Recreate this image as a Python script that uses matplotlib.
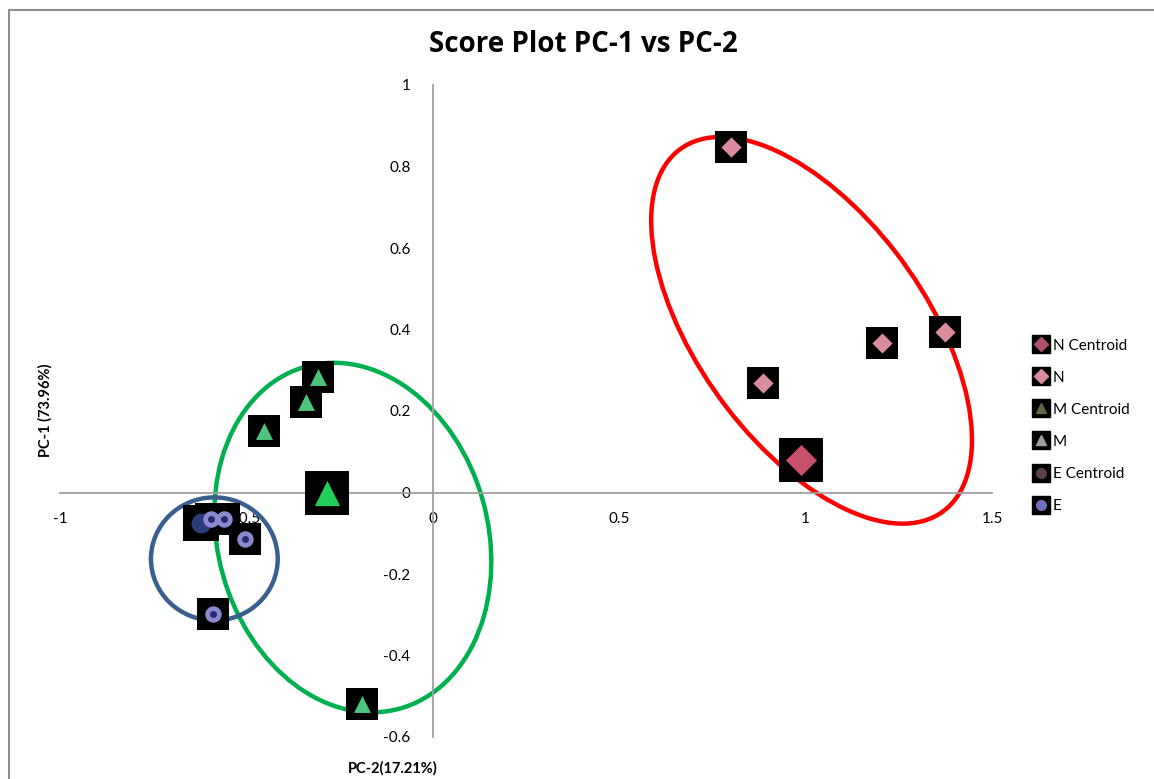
import matplotlib.pyplot as plt
from matplotlib.patches import Ellipse, Rectangle
from matplotlib.lines import Line2D

plt.rcParams['font.family'] = ['Lato', 'DejaVu Sans']

# Scores (x = PC-2, y = PC-1)
n_x = [0.80, 0.887, 1.206, 1.375]
n_y = [0.848, 0.268, 0.366, 0.393]
n_cx, n_cy = [0.987], [0.079]

m_x = [-0.308, -0.340, -0.453, -0.190]
m_y = [0.283, 0.221, 0.152, -0.518]
m_cx, m_cy = [-0.284], [0.0]

e_x = [-0.595, -0.560, -0.504, -0.590]
e_y = [-0.066, -0.064, -0.113, -0.297]
e_cx, e_cy = [-0.622], [-0.074]

# group ellipses: center, width, height, angle, colour
ellipses = [
    ((1.016, 0.398), 1.136, 0.592, 130.1, '#ff0000'),
    ((-0.2145, -0.1106), 0.878, 0.719, 111.8, '#00b050'),
    ((-0.586, -0.163), 0.340, 0.302, 0.0, '#3a5f8f'),
]

legend_labels = ['N Centroid', 'N', 'M Centroid', 'M', 'E Centroid', 'E']

fig = plt.figure(figsize=(11.54, 7.79), dpi=100)
ax = fig.add_axes([60 / 1154, 42 / 779, 932 / 1154, 652 / 779])
ax.set_xlim(-1, 1.5)
ax.set_ylim(-0.6, 1)

# Excel-like axes crossing at zero
for s in ['top', 'right']:
    ax.spines[s].set_visible(False)
ax.spines['left'].set_position(('data', 0))
ax.spines['bottom'].set_position(('data', 0))
ax.spines['left'].set_color('#a0a0a0')
ax.spines['bottom'].set_color('#a0a0a0')
ax.spines['left'].set_linewidth(1.3)
ax.spines['bottom'].set_linewidth(1.3)
ax.set_xticks([-1, -0.5, 0, 0.5, 1, 1.5])
ax.set_xticklabels(['-1', '-0.5', '0', '0.5', '1', '1.5'])
ax.set_yticks([-0.6, -0.4, -0.2, 0, 0.2, 0.4, 0.6, 0.8, 1])
ax.set_yticklabels(['-0.6', '-0.4', '-0.2', '0', '0.2', '0.4', '0.6', '0.8', '1'])
ax.tick_params(length=0, labelsize=11, colors='black', pad=16)
ax.tick_params(axis='x', pad=14)
ax.patch.set_alpha(0)

# ellipses
for c, w, h, a, col in ellipses:
    ax.add_patch(Ellipse(c, w, h, angle=a, fill=False, edgecolor=col, lw=3.2, zorder=2))


def boxed(x, y, size, marker, color, inner, zo):
    ax.scatter(x, y, s=size, marker='s', color='black', zorder=zo, linewidths=0)
    ax.scatter(x, y, s=size * inner, marker=marker, color=color, zorder=zo + 1,
               linewidths=0)


boxed(n_x, n_y, 530, 'D', '#d98c9c', 0.2, 3)
boxed(n_cx, n_cy, 960, 'D', '#c9506a', 0.26, 3)
boxed(m_x, m_y, 530, '^', '#4cc47e', 0.28, 5)
boxed(m_cx, m_cy, 1000, '^', '#1fcf5a', 0.33, 5)
boxed(e_cx, e_cy, 680, 'o', '#2a3c7a', 0.30, 7)
boxed(e_x, e_y, 500, 'o', '#8a8ad0', 0.28, 7)
ax.scatter(e_x, e_y, s=25, marker='o', color='#2a2a70', zorder=9, linewidths=0)

fig.text(583 / 1154, 1 - 44 / 779, 'Score Plot PC-1 vs PC-2', ha='center',
         va='center', fontsize=20, fontweight='bold',
         fontfamily=['Open Sans', 'DejaVu Sans'])
fig.text(45 / 1154, 1 - 410 / 779, 'PC-1 (73.96%)', rotation=90, ha='center',
         va='center', fontsize=10.5, fontweight='bold')
fig.text(393 / 1154, 1 - 768 / 779, 'PC-2(17.21%)', ha='center', va='center',
         fontsize=10.5, fontweight='bold')

# legend
leg_styles = [('D', '#b0506a'), ('D', '#d98c9c'), ('^', '#5a6a4a'),
              ('^', '#a0a0a0'), ('o', '#5a4048'), ('o', '#7070c0')]
handles = []
for mk, col in leg_styles:
    sq = Line2D([], [], marker='s', color='black', markersize=13, linestyle='none')
    sh = Line2D([], [], marker=mk, color=col, markersize=7, linestyle='none')
    handles.append((sq, sh))
fig.legend(handles, legend_labels, loc='upper left',
           bbox_to_anchor=(1020 / 1154, 1 - 325 / 779), frameon=False,
           fontsize=11, handlelength=0.9, handletextpad=0.35, labelspacing=1.18)

# outer chart frame
fig.patches.append(Rectangle((9 / 1154, -0.1), 1.2, 1 - 10 / 779 + 0.1,
                             transform=fig.transFigure, fill=False,
                             edgecolor='#8c8c8c', lw=1.5))

fig.savefig('out.png', dpi=100)
